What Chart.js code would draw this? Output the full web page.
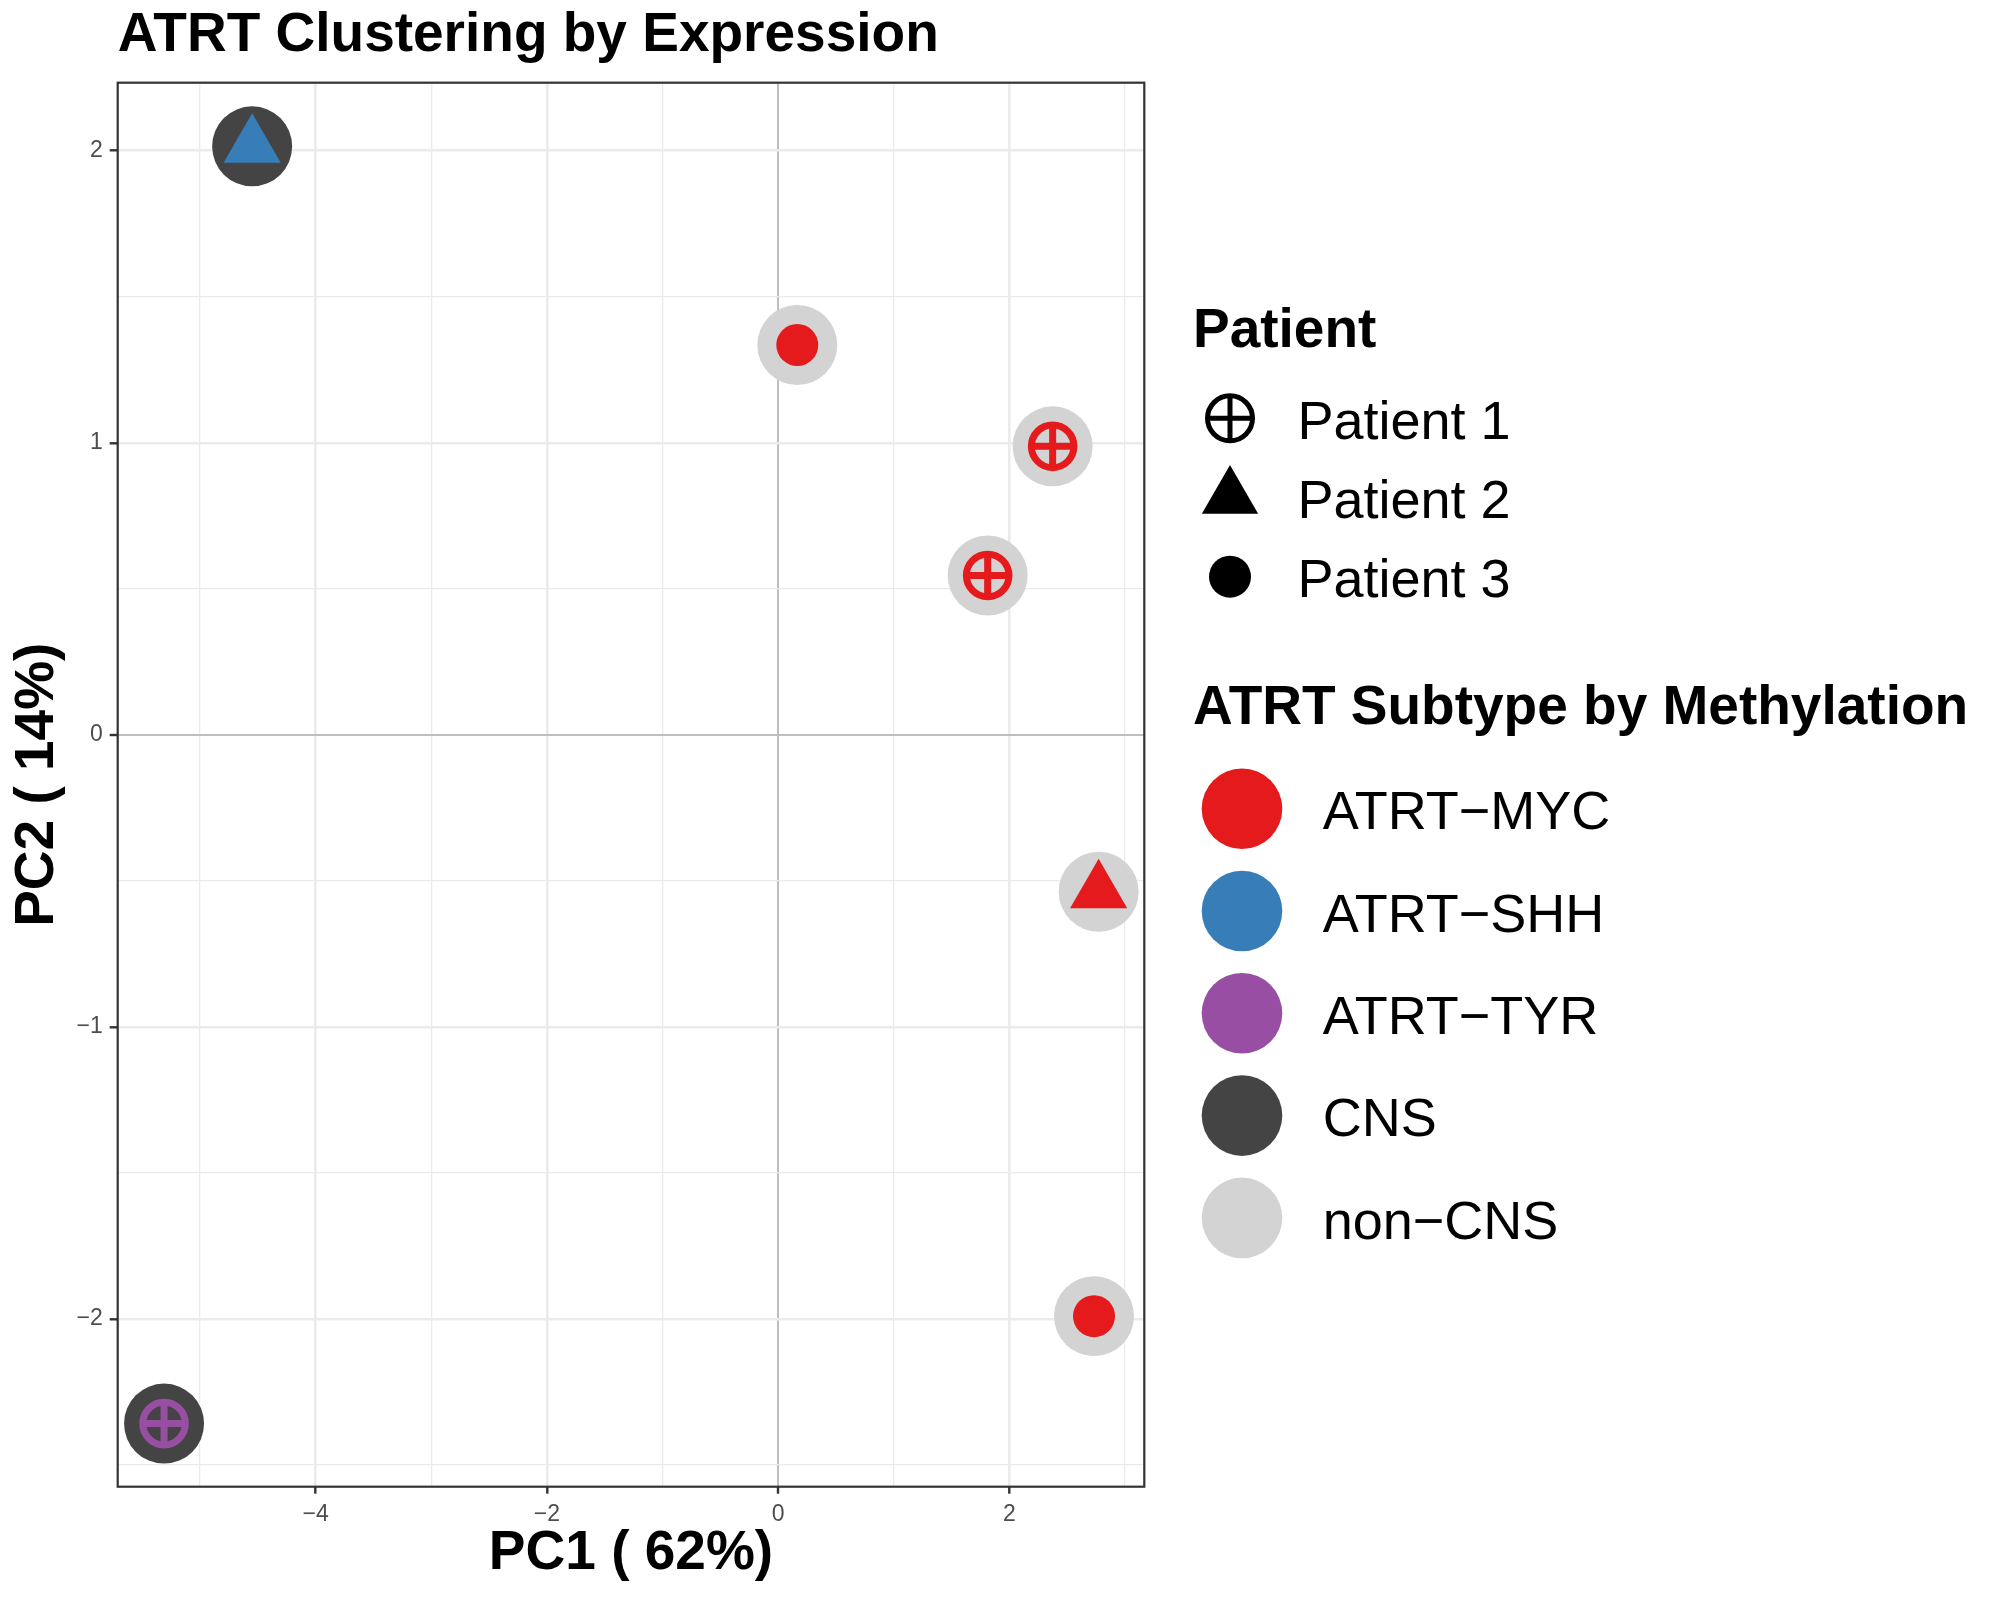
<!DOCTYPE html>
<html>
<head>
<meta charset="utf-8">
<script src="https://cdn.jsdelivr.net/npm/chart.js@4/dist/chart.umd.min.js"></script>
<style>
  html, body { margin: 0; padding: 0; background: #fff; }
  #wrap { width: 2000px; height: 1600px; }
</style>
</head>
<body>
<div id="wrap"><canvas id="chart" width="2000" height="1600"></canvas></div>
<script>
// PCA coordinates, one entry per sample
const pc1 = [-4.55, 0.166, 2.375, 1.813, 2.773, 2.733, -5.312];
const pc2 = [2.015, 1.335, 0.988, 0.546, -0.537, -1.99, -2.358];
const patient = ['Patient 2', 'Patient 3', 'Patient 1', 'Patient 1', 'Patient 2', 'Patient 3', 'Patient 1'];
const subtype = ['ATRT-SHH', 'ATRT-MYC', 'ATRT-MYC', 'ATRT-MYC', 'ATRT-MYC', 'ATRT-MYC', 'ATRT-TYR'];
const tissue = ['CNS', 'non-CNS', 'non-CNS', 'non-CNS', 'non-CNS', 'non-CNS', 'CNS'];

const patientLevels = ['Patient 1', 'Patient 2', 'Patient 3'];
const colourLevels = ['ATRT-MYC', 'ATRT-SHH', 'ATRT-TYR', 'CNS', 'non-CNS'];
const colourValues = ['#E41A1C', '#377EB8', '#984EA3', '#444444', '#D3D3D3'];

const xTicks = [-4, -2, 0, 2];
const yTicks = [-2, -1, 0, 1, 2];

const FONT = '"Liberation Sans", Arial, Helvetica, sans-serif';
Chart.defaults.font.family = FONT;

const minus = s => String(s).replace(/-/g, '\u2212');
const colourOf = k => colourValues[colourLevels.indexOf(k)];
const idx = pc1.map((_, i) => i);
const points = idx.map(i => ({x: pc1[i], y: pc2[i]}));
const p1 = idx.filter(i => patient[i] === 'Patient 1');

// grid styling like theme_bw: thick major lines, thin minor lines, grey zero lines
function gridColor(ticks) {
  return ctx => {
    const v = ctx.tick ? ctx.tick.value : null;
    if (v === 0) return '#BEBEBE';
    return '#EBEBEB';
  };
}
function gridWidth(ticks) {
  return ctx => {
    const v = ctx.tick ? ctx.tick.value : null;
    if (v === 0) return 2;
    return ticks.includes(v) ? 2.6 : 1.3;
  };
}
function tickColor(ticks) {
  return ctx => (ctx.tick && ticks.includes(ctx.tick.value)) ? '#333333' : 'rgba(0,0,0,0)';
}

const ggLegend = {
  id: 'ggLegend',
  afterDatasetsDraw(chart) {
    const {ctx, chartArea: a} = chart;
    ctx.save();
    ctx.strokeStyle = '#333333';
    ctx.lineWidth = 2.2;
    ctx.strokeRect(a.left, a.top, a.right - a.left, a.bottom - a.top);
    ctx.restore();
  },
  afterDraw(chart) {
    const ctx = chart.ctx;
    ctx.save();
    ctx.fillStyle = '#000';
    ctx.strokeStyle = '#000';
    ctx.textAlign = 'left';
    ctx.textBaseline = 'alphabetic';

    // shape legend
    ctx.font = 'bold 55px ' + FONT;
    ctx.fillText('Patient', 1193, 346.7);
    ctx.font = '54px ' + FONT;
    patientLevels.forEach((p, k) => {
      const cy = 418.3 + k * 79.2, cx = 1230;
      ctx.beginPath();
      if (k === 0) {
        ctx.lineWidth = 5;
        ctx.arc(cx, cy, 22.5, 0, Math.PI * 2);
        ctx.moveTo(cx - 22.5, cy); ctx.lineTo(cx + 22.5, cy);
        ctx.moveTo(cx, cy - 22.5); ctx.lineTo(cx, cy + 22.5);
        ctx.stroke();
      } else if (k === 1) {
        const r = 32.5;
        ctx.moveTo(cx, cy - r);
        ctx.lineTo(cx + Math.sin(2 * Math.PI / 3) * r, cy + r / 2);
        ctx.lineTo(cx - Math.sin(2 * Math.PI / 3) * r, cy + r / 2);
        ctx.closePath();
        ctx.fill();
      } else {
        ctx.arc(cx, cy, 21, 0, Math.PI * 2);
        ctx.fill();
      }
      ctx.fillText(p, 1297.5, cy + 20.5);
    });

    // colour legend
    ctx.font = 'bold 55px ' + FONT;
    ctx.fillText('ATRT Subtype by Methylation', 1193, 724.3);
    ctx.font = '54px ' + FONT;
    colourLevels.forEach((c, k) => {
      const cy = 808.7 + k * 102.3;
      ctx.beginPath();
      ctx.fillStyle = colourValues[k];
      ctx.arc(1242, cy, 40.3, 0, Math.PI * 2);
      ctx.fill();
      ctx.fillStyle = '#000';
      ctx.fillText(minus(c), 1322.7, cy + 20.6);
    });
    ctx.restore();
  }
};

new Chart(document.getElementById('chart'), {
  type: 'scatter',
  data: {
    datasets: [
      {
        label: 'tissue',
        data: points,
        order: 3,
        clip: false,
        pointStyle: 'circle',
        pointRadius: 40,
        pointBackgroundColor: tissue.map(colourOf),
        pointBorderWidth: 0
      },
      {
        label: 'subtype',
        data: points,
        order: 2,
        clip: false,
        pointStyle: patient.map(p => p === 'Patient 2' ? 'triangle' : 'circle'),
        pointRadius: patient.map(p => p === 'Patient 1' ? 21.3 : (p === 'Patient 2' ? 33 : 21)),
        pointBackgroundColor: idx.map(i => patient[i] === 'Patient 1' ? 'rgba(0,0,0,0)' : colourOf(subtype[i])),
        pointBorderColor: subtype.map(colourOf),
        pointBorderWidth: patient.map(p => p === 'Patient 1' ? 7 : 0)
      },
      {
        label: 'cross',
        data: p1.map(i => points[i]),
        order: 1,
        clip: false,
        pointStyle: 'cross',
        pointRadius: 21.3,
        pointBackgroundColor: 'rgba(0,0,0,0)',
        pointBorderColor: p1.map(i => colourOf(subtype[i])),
        pointBorderWidth: 7
      }
    ]
  },
  options: {
    responsive: false,
    devicePixelRatio: 1,
    animation: false,
    events: [],
    layout: { padding: { left: 0, top: 0, right: 855.7, bottom: 0 } },
    plugins: {
      legend: { display: false },
      tooltip: { enabled: false },
      title: {
        display: true,
        text: 'ATRT Clustering by Expression',
        align: 'start',
        fullSize: false,
        color: '#000',
        font: { size: 55, weight: 'bold' },
        padding: { top: 2.4, bottom: 14.3 }
      }
    },
    scales: {
      x: {
        type: 'linear',
        min: -5.713,
        max: 3.168,
        afterFit(s) { s.height = 113.3; },
        border: { display: false },
        grid: {
          color: gridColor(xTicks),
          lineWidth: gridWidth(xTicks),
          tickLength: 7,
          tickWidth: 2.4,
          tickColor: tickColor(xTicks)
        },
        ticks: {
          stepSize: 1,
          includeBounds: false,
          autoSkip: false,
          maxRotation: 0,
          padding: 7.6,
          color: '#4D4D4D',
          font: { size: 23 },
          callback: v => xTicks.includes(v) ? minus(v) : ''
        },
        title: {
          display: true,
          text: 'PC1 ( 62%)',
          color: '#000',
          font: { size: 55, weight: 'bold' },
          padding: { top: 0, bottom: 13.4 }
        }
      },
      y: {
        type: 'linear',
        min: -2.574,
        max: 2.233,
        afterFit(s) { s.width = 117.7; },
        border: { display: false },
        grid: {
          color: gridColor(yTicks),
          lineWidth: gridWidth(yTicks),
          tickLength: 8,
          tickWidth: 2.4,
          tickColor: tickColor(yTicks)
        },
        ticks: {
          stepSize: 0.5,
          includeBounds: false,
          autoSkip: false,
          padding: 7,
          color: '#4D4D4D',
          font: { size: 23 },
          callback: v => yTicks.includes(v) ? minus(v) : ''
        },
        title: {
          display: true,
          text: 'PC2 ( 14%)',
          color: '#000',
          font: { size: 55, weight: 'bold' },
          padding: { top: 5, bottom: 0 }
        }
      }
    }
  },
  plugins: [ggLegend]
});
</script>
</body>
</html>
